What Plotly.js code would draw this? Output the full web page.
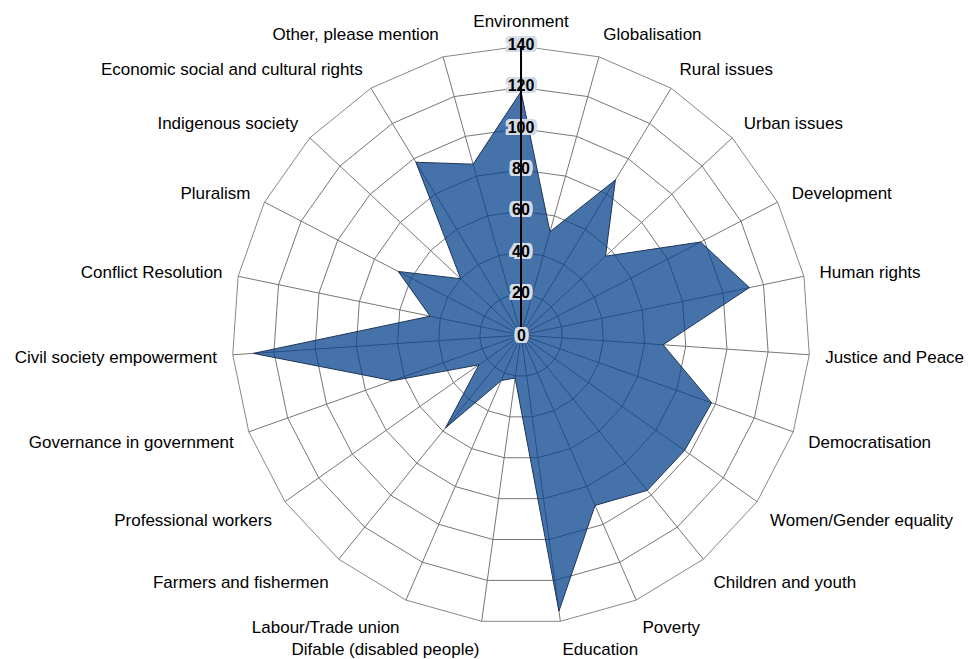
<!DOCTYPE html>
<html>
<head>
<meta charset="utf-8">
<script src="https://cdn.plot.ly/plotly-3.0.1.min.js"></script>
<style>html,body{margin:0;padding:0;background:#fff;}#chart{width:968px;height:659px;}</style>
</head>
<body>
<div id="chart"></div>
<script>
const categories = [
  "Environment", "Globalisation", "Rural issues", "Urban issues", "Development",
  "Human rights", "Justice and Peace", "Democratisation", "Women/Gender equality",
  "Children and youth", "Poverty", "Education", "Difable (disabled people)",
  "Labour/Trade union", "Farmers and fishermen", "Professional workers",
  "Governance in government", "Civil society empowerment", "Conflict Resolution",
  "Pluralism", "Indigenous society", "Economic social and cultural rights",
  "Other, please mention"
];
const values = [118, 52, 88, 56, 98, 113, 69, 98, 97, 97, 90, 135, 21, 24, 58, 25, 66, 130, 45, 67, 40, 98, 86];
const radialTicks = [0, 20, 40, 60, 80, 100, 120, 140];
const radialTickLabels = ["0", "20", "40", "60", "80", "100", "120", "140"];
const radialRange = [0, 140];

const fontFamily = "Liberation Sans, Arial, sans-serif";
const polarDomain = {x: [0.2397, 0.8368], y: [0.0531, 0.930]};

const series = {
  type: "scatterpolar",
  r: values.concat([values[0]]),
  theta: categories.concat([categories[0]]),
  mode: "lines",
  fill: "toself",
  fillcolor: "rgba(5,66,138,0.745)",
  line: {color: "#1f3558", width: 1},
  hoverinfo: "r+theta",
  showlegend: false
};

const shadowCol = "#d3dbe6";
const shadowParts = [];
for (let dx = -3; dx <= 3; dx++) {
  for (let dy = -2; dy <= 2; dy++) {
    if (dx === 0 && dy === 0) continue;
    shadowParts.push(dx + "px " + dy + "px 0 " + shadowCol);
  }
}
const tickFont = {
  family: fontFamily, size: 16, color: "#000", weight: "bold",
  shadow: shadowParts.join(", ")
};

const outerIdx = radialTicks.map((v, i) => i).filter(i => radialTicks[i] > radialRange[0]);
const tickOuter = {
  type: "scatterpolar",
  r: outerIdx.map(i => radialTicks[i]),
  theta: outerIdx.map(() => categories[0]),
  mode: "text",
  text: outerIdx.map(i => radialTickLabels[i]),
  textposition: "middle center",
  textfont: tickFont,
  hoverinfo: "skip",
  showlegend: false,
  cliponaxis: false
};

// the label at the range minimum sits at the polar origin (centre of the domain)
const centreIdx = radialTicks.map((v, i) => i).filter(i => radialTicks[i] <= radialRange[0]);
const centreAnnotations = centreIdx.map(i => ({
  xref: "paper", yref: "paper",
  x: (polarDomain.x[0] + polarDomain.x[1]) / 2,
  y: (polarDomain.y[0] + polarDomain.y[1]) / 2,
  xanchor: "center", yanchor: "middle",
  text: radialTickLabels[i],
  showarrow: false,
  font: tickFont
}));

const layout = {
  width: 968,
  height: 659,
  margin: {l: 0, r: 0, t: 0, b: 0},
  paper_bgcolor: "#fff",
  plot_bgcolor: "#fff",
  font: {family: fontFamily, size: 17, color: "#000"},
  showlegend: false,
  annotations: centreAnnotations,
  polar: {
    domain: polarDomain,
    gridshape: "linear",
    bgcolor: "#fff",
    radialaxis: {
      range: radialRange,
      tickvals: radialTicks,
      showticklabels: false,
      ticks: "",
      angle: 90,
      showline: true,
      linecolor: "#000",
      linewidth: 2,
      gridcolor: "#777",
      gridwidth: 1,
      layer: "above traces"
    },
    angularaxis: {
      direction: "clockwise",
      rotation: 90,
      type: "category",
      categoryarray: categories,
      showline: true,
      linecolor: "#888",
      linewidth: 1,
      gridcolor: "#777",
      gridwidth: 1,
      ticks: "outside",
      ticklen: 12,
      tickcolor: "rgba(0,0,0,0)",
      tickfont: {family: fontFamily, size: 17, color: "#000"},
      layer: "below traces"
    }
  }
};

Plotly.newPlot("chart", [series, tickOuter], layout, {displayModeBar: false, staticPlot: true});
</script>
</body>
</html>
